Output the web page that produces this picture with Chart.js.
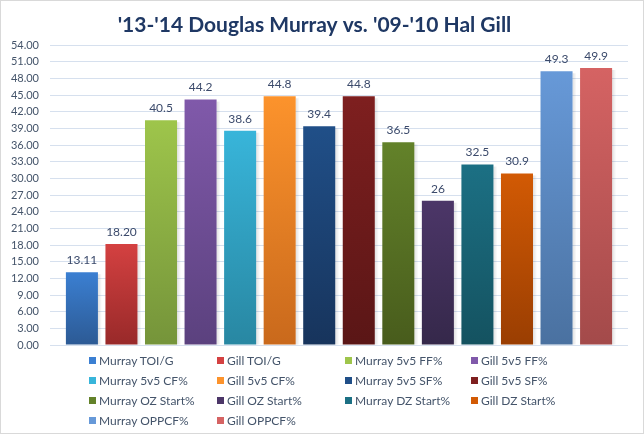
<!DOCTYPE html>
<html>
<head>
<meta charset="utf-8">
<script src="https://cdn.jsdelivr.net/npm/chart.js@4"></script>
<style>
  html, body { margin: 0; padding: 0; background: #fff; }
  #wrap { position: relative; width: 644px; height: 434px; box-sizing: border-box; border: 1px solid #d9d9d9; }
  #c { position: absolute; left: 0; top: 0; }
  #legend { position: absolute; left: 0; top: 0; font-family: Lato, "Open Sans", sans-serif; font-size: 12px; color: #44546a; }
  .item { position: absolute; white-space: nowrap; line-height: 14px; }
  .item i { display: inline-block; width: 7px; height: 7px; margin-right: 3px; vertical-align: 1px; }
</style>
</head>
<body>
<div id="wrap">
  <canvas id="c" width="642" height="432"></canvas>
  <div id="legend"></div>
</div>
<script>
var seriesNames = ['Murray TOI/G', 'Gill TOI/G', 'Murray 5v5 FF%', 'Gill 5v5 FF%',
  'Murray 5v5 CF%', 'Gill 5v5 CF%', 'Murray 5v5 SF%', 'Gill 5v5 SF%',
  'Murray OZ Start%', 'Gill OZ Start%', 'Murray DZ Start%', 'Gill DZ Start%',
  'Murray OPPCF%', 'Gill OPPCF%']
var seriesValues = [13.11, 18.20, 40.5, 44.2, 38.6, 44.8, 39.4, 44.8, 36.5, 26, 32.5, 30.9, 49.3, 49.9]
var valueLabels = ['13.11', '18.20', '40.5', '44.2', '38.6', '44.8', '39.4', '44.8', '36.5', '26', '32.5', '30.9', '49.3', '49.9']
var topColors = ['#3b7fd2', '#d44141', '#9ec54b', '#8059aa', '#38b5da', '#fc932c', '#204f88', '#7e1f1f',
  '#63822a', '#4c3668', '#1c7084', '#d25a04', '#6799d8', '#d56363']
var bottomColors = ['#2c5a94', '#982929', '#75943a', '#5b417e', '#2887a2', '#c9691c', '#17345c', '#5a1616',
  '#485c1c', '#35284a', '#145260', '#9a3e02', '#4a71a0', '#a34a4a']
var yTicks = { min: 0, max: 54, step: 3 }

var datasets = seriesNames.map(function (name, i) {
  return {
    label: name,
    data: [seriesValues[i]],
    backgroundColor: function (ctx) {
      var chart = ctx.chart
      var area = chart.chartArea
      if (!area) return topColors[i]
      var top = chart.scales.y.getPixelForValue(seriesValues[i])
      var g = chart.ctx.createLinearGradient(0, top, 0, area.bottom)
      g.addColorStop(0, topColors[i])
      g.addColorStop(1, bottomColors[i])
      return g
    },
    borderWidth: 0
  }
})

// value labels above each bar
var barLabels = {
  id: 'barLabels',
  afterDatasetsDraw: function (chart) {
    var ctx = chart.ctx
    ctx.save()
    ctx.font = '12px Lato, "Open Sans", sans-serif'
    ctx.fillStyle = '#3b4a6b'
    ctx.textAlign = 'center'
    ctx.textBaseline = 'bottom'
    chart.data.datasets.forEach(function (ds, i) {
      var bar = chart.getDatasetMeta(i).data[0]
      ctx.fillText(valueLabels[i], bar.x, bar.y - 6)
    })
    ctx.restore()
  }
}

// light shadow on the right of each bar
var barShadow = {
  id: 'barShadow',
  beforeDatasetsDraw: function (chart) {
    var ctx = chart.ctx
    ctx.save()
    chart.data.datasets.forEach(function (ds, i) {
      var bar = chart.getDatasetMeta(i).data[0]
      var right = bar.x + bar.width / 2
      var g = ctx.createLinearGradient(right, 0, right + 4, 0)
      g.addColorStop(0, 'rgba(0,0,0,0.12)')
      g.addColorStop(1, 'rgba(0,0,0,0)')
      ctx.fillStyle = g
      ctx.fillRect(right, bar.y + 2, 4, bar.base - bar.y - 2)
    })
    ctx.restore()
  }
}

var chart = new Chart(document.getElementById('c'), {
  type: 'bar',
  data: { labels: [''], datasets: datasets },
  options: {
    responsive: false,
    animation: false,
    layout: { padding: { left: 0, right: 15, top: 0, bottom: 88 } },
    categoryPercentage: 0.958,
    barPercentage: 0.81,
    plugins: {
      legend: { display: false },
      tooltip: { enabled: false },
      title: {
        display: true,
        text: "'13-'14 Douglas Murray vs. '09-'10 Hal Gill",
        color: '#1f3864',
        font: { family: 'Lato, "Open Sans", sans-serif', size: 21, weight: 'bold' },
        padding: { top: 12, bottom: 7 }
      }
    },
    scales: {
      x: { display: false },
      y: {
        min: yTicks.min,
        max: yTicks.max,
        afterFit: function (scale) { scale.width = 49 },
        border: { display: false },
        grid: { color: '#d6e0ee', drawTicks: false, lineWidth: 1 },
        ticks: {
          stepSize: yTicks.step,
          padding: 11,
          color: '#44546a',
          font: { family: 'Lato, "Open Sans", sans-serif', size: 11 },
          callback: function (v) { return v.toFixed(2) }
        }
      }
    }
  },
  plugins: [barShadow, barLabels]
})

// legend in 4 columns, like the original
var legendCols = [88, 216, 344, 470]
var legendRows = [353, 373, 393, 413]
var legend = document.getElementById('legend')
seriesNames.forEach(function (name, i) {
  var el = document.createElement('div')
  el.className = 'item'
  el.style.left = legendCols[i % 4] + 'px'
  el.style.top = legendRows[Math.floor(i / 4)] + 'px'
  el.innerHTML = '<i style="background:' + topColors[i] + '"></i>' + name
  legend.appendChild(el)
})
</script>
</body>
</html>
